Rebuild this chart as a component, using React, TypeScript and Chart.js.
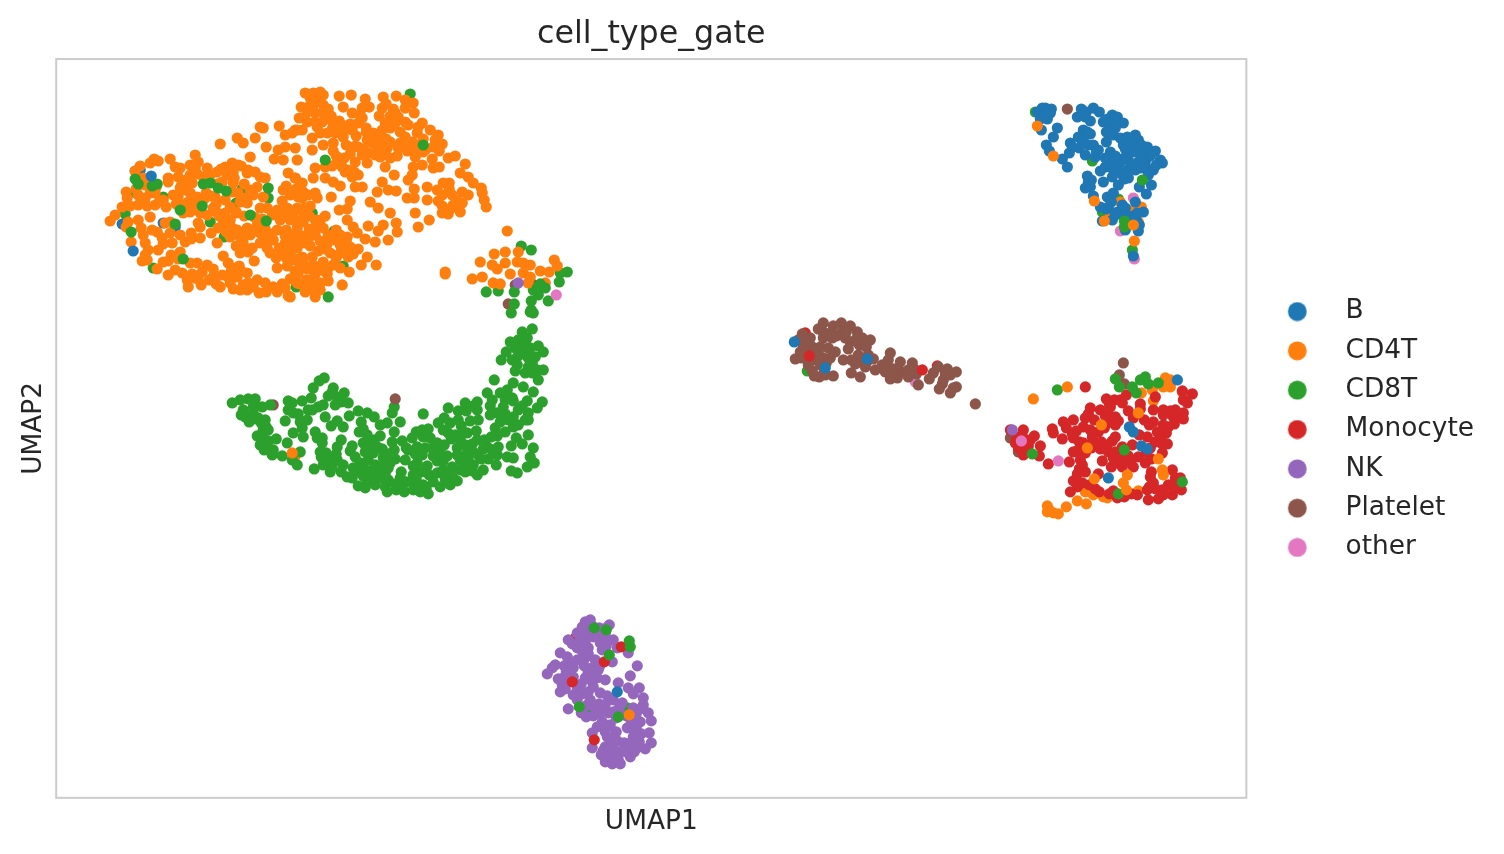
import React, { useEffect, useRef } from "react";
import { Chart, registerables } from "chart.js";

Chart.register(...registerables);

type P = [number, number];

const titleText = "cell_type_gate";
const xLabel = "UMAP1";
const yLabel = "UMAP2";
const categories = ["B", "CD4T", "CD8T", "Monocyte", "NK", "Platelet", "other"];
const colors = ["#1f77b4", "#ff7f0e", "#2ca02c", "#d62728", "#9467bd", "#8c564b", "#e377c2"];

const bMain: P[] = [[98.1,68.6],[98.9,69],[99.5,68.9],[98.6,68.3],[99.4,68.5],[99.1,67.9],[98.4,67.9],[98.5,66.8],[100.1,67],[99.7,66.1],[99,65.3],[99.3,64.7],[100.6,63.9],[101.1,63.1],[101.3,64.5],[101.4,65.5],[102.3,65],[102.9,64.3],[102.2,66.1],[102.7,66.8],[103.4,66.4],[103.2,65.3],[103.7,65.3],[104.2,64.8],[103.9,64.1],[105,65.6],[102.1,68.1],[102.5,68.9],[102.9,68.1],[103.4,67.7],[103.7,69],[104.3,68.6],[104.7,67.6],[105.6,68.3],[106.1,68.1],[105.4,67.1],[106.7,67.5],[105.7,66.3],[106.4,66],[107.1,66.1],[107.9,66.3],[108.2,65.8],[106.7,65.3],[107.6,65.1],[109.1,65.1],[109.9,64.7],[105.4,64.6],[107.1,64.5],[107.9,64.6],[109.1,64.3],[110.4,63.8],[110.6,63.5],[107.2,63.8],[108.2,63.6],[108.9,63.3],[109.7,62.8],[105.4,63.5],[106.4,63.6],[104.9,63.1],[104.4,62.7],[105.7,62.8],[105.6,62.1],[107.1,62.8],[107.9,62.8],[107.2,62],[109.2,62.3],[106.2,61.3],[104.7,61.6],[103.1,62.2],[103.2,61.6],[102.9,61],[108.3,61.1],[109.5,61.3],[109,60.4],[103.7,60.2],[105.1,60.1],[105.7,60.5],[105.2,59.1],[104.4,59.1],[106.6,59.3],[107.9,59.6],[108.7,58.6],[106.1,58.6],[106.6,58.4],[104.6,57.7],[105.6,57.8],[108,57.8],[108.2,56.7],[106.9,56.8],[107.7,54.2],
[98.6,69],[99,68.5],[105,66.6],[105.9,67],[106,67.6],[105.1,67.9],[106.9,64.9],[107.5,65.5],[108.5,65.3],[108.6,64.3],[108.5,63],[106.8,64],[107.6,63.3],[105.9,64.2],[106.1,63],[106.6,62.4],[105.6,63.9],[104.9,64],[109,63.9],[109.4,64.2],[110,63.3],[106.8,61.9],[103,68.6],[102.8,66.2],[102.6,65.6],[103.1,66.6],[104,64.7],[101.6,65.1],[105.5,59.6],[106.9,59],[107.3,58.2],[107.7,58.2],[106.9,58],[105.9,58.3],[105,58.9],[108.1,58.5],[108.3,57.3],[103.5,61.8],[103.4,61.1]];
const bAbove: P[] = [[9.5,62.2],[7.7,54.7],[107.3,37.1],[107.7,36.6],[108.5,35.2],[109.1,34.9],[105.2,32],[112.1,41.8],[73.8,45.6],[76.9,43],[81.1,43.9],[56.1,10.6]];
const bBelow: P[] = [[7.9,62.7],[8.4,62.8],[6.6,57.4],[10.7,57.5],[11.9,57.1],[52.6,15.6],[53.2,12.5]];

const cd4tMain: P[] = [[5.4,57.7],[5.9,58.3],[6.6,59.1],[7.4,59.2],[8.2,59.3],[9.1,59.2],[9.9,59.3],[10.7,59.8],[9.4,58.1],[8.2,57.8],[7.2,57.6],[7,57.1],[8.5,57],[8.7,56.3],[9.6,56.8],[7.5,55.6],[8.9,55.5],[9.2,54.8],[8.9,54.3],[8.6,53.7],[9.1,53.8],[10.2,54.8],[10.7,55.4],[11.6,55.5],[11.4,56.5],[12.4,56.3],[13.5,56.5],[14.4,56],[16.1,55.5],[11.5,54.3],[12.4,54.6],[10.7,53.6],[10.1,52.9],[11.2,52.3],[11.9,52.8],[12.6,52.5],[13.4,53.5],[14.1,53.5],[13.6,52.4],[14.2,51.9],[13.1,51.8],[13.2,51.1],[14.5,51.3],[15.1,53.3],[15.7,52.9],[15.7,52.1],[16.4,51.1],[16.7,54.2],[17.2,53.5],[17.7,53],[16.6,52.3],[17.2,52.1],[18.1,52.1],[17.4,51.5],[18.4,50.8],[19.1,52.5],[19.2,51.5],[19.1,50.8],[20.1,51.8],[21,50.6],[20.9,51.5],[21.7,51.1],[22.1,50.6],[22.6,51.4],[23.2,50.2],[23.4,51.9],[24.1,51.5],[22.1,53],[23.9,52.7],[19.8,53.7],[19.2,54.6],[18.4,54.5],[21.1,55],[21.4,54.5],[22.6,54.5],[23.4,54.5],[22.9,55.5],[24.1,55.5],[21.7,55.8],[20.4,55.5],[18.7,55.5],[17.4,56.1],[18.4,56.1],[19.4,56.3],[20.4,56.5],[18.1,56.8],[19.1,57],[20.1,57.3],[22.1,56.8],[23,56.8],[24.1,56.6],[22.4,57.8],[23.4,57.8],[24.2,57.6],[22.1,58.8],[23.1,59],[24.1,59],[24.2,60.1],[22.7,60.8],[23.2,62.5],[23.9,62],[24.4,61.5],[20.4,62.1],[20.9,62],[20.1,61.1],[19.1,62.5],[19.2,62.8],[19.7,60.3],[20.7,60.1],[20.4,59],[21.1,59],[18.4,59.6],[19.1,59.5],[18.2,60.5],[19.4,60.8],[17.4,59.1],[16.9,59.8],[16.9,58.5],[17.4,57.8],[16.7,57.5],[17.6,57],[15.7,59],[15.1,58.3],[14.4,58.5],[13.4,58.6],[12.7,58.5],[14.2,57.5],[14.4,57.1],[11.4,57.6],[10.9,57.5],[12.2,60.1],[11.7,60.3],[12.4,61],[12.9,60.8],[13.4,60.5],[14.1,60.1],[13.2,59.6],[13.9,59.3],[13.6,61.5],[13.4,62.3],[13.9,63],[13.9,64.3],[14.2,63.6],[13.4,63.3],[15.1,63],[15.4,62.3],[16.1,62.6],[16.9,63.1],[17.6,63.5],[18.2,63.3],[17.7,62.6],[17.1,62.3],[17.7,61.5],[16.6,61.6],[19.4,64.1],[16.4,65.4],[18.1,66],[18.7,65.5],[19.9,66],[20.4,67.1],[20.7,67],[21,65.1],[22.3,67.2],[22.9,66.3],[23.6,66.5],[24.1,66.8],[22.2,64.8],[22.9,65.1],[21.8,63.9],[22.7,63.8],[24.1,63.8],[23.9,65],[11.4,63.9],[11.9,63.1],[12.4,63],[12.2,62.1],[11.2,62],[11.2,61.6],[9.4,63.5],[9.8,63.9],[10.2,63.7],[8.4,63.2],[7.9,62.7],[8.7,62],[8.9,61.3],[9.4,60.5],[9.9,60.5],[8.2,60.3],[7,60.6],[7.1,60],
[24.9,70.5],[25.7,70.5],[26.4,70.6],[26.7,70.3],[25.4,70],[26.2,69.8],[24.5,69.1],[25.7,69.3],[26.7,69.3],[28.3,70.2],[29.5,70.3],[30.9,69.9],[28.7,69.1],[27.2,68.9],[25.9,68.5],[26.7,68.5],[29.6,68.5],[30.6,69],[31.3,69.1],[30.4,68.3],[32.7,70.1],[34,70.2],[34.9,69.8],[35.7,69.5],[32.6,69],[32.3,68.2],[33.7,68.9],[33.4,68.2],[34.9,69],[35.8,68.5],[34.2,68.1],[34.9,67.6],[33.9,68.5],[24.3,68],[25.1,67.6],[25.9,67.6],[26.1,67.1],[23.9,66.8],[24.6,66.8],[26.4,66.5],[27.1,66.5],[27.7,67.5],[28.3,67.7],[27.9,66.5],[28.9,66.8],[29.6,66.8],[30.2,67.5],[30.6,68],[28.7,66.1],[25.6,66],[25.6,64.8],[26.7,65.3],[27.7,65.5],[27.7,64.7],[29,65.3],[31.1,65.8],[31.7,66.5],[32.4,66.1],[32.9,67.5],[33.4,67],[32.6,66.8],[34.4,66.6],[35.2,67.3],[36.1,66.5],[36.6,67.5],[37.4,66.8],[38.2,66.3],[37.9,65.8],[38.6,65.4],[37.7,65.1],[34.9,66.1],[35.6,65.6],[36.2,65.3],[33.4,65.6],[34.4,65.5],[32.2,65.5],[31.6,65.5],[30.2,65.1],[33.1,65],[32.1,64.8],[31.2,64.5],[29.4,64.4],[30.6,64.3],[29.9,63.6],[31.1,63.5],[32.4,64.1],[33.4,64],[34.1,64.2],[32.9,63.1],[35.9,64.1],[36.7,64.6],[37.6,63.9],[36.6,63.3],[37.7,63],[38.3,63.1],[39.2,64],[39.9,64.2],[40.9,63.4],[40.4,62.5],[41.2,62.1],[41.7,61.5],[42.5,61],[42.6,60.5],[42.8,59.8],[43,59.1],[35.7,63.1],[35.6,62.3],[35.2,61.8],[33.8,62.3],[32.6,61.6],[32.1,60.6],[33.2,60.8],[34,60.7],[35.8,60.9],[35.1,60],[35.8,60],[37.1,61.1],[37.1,59.8],[38.1,60.8],[38.7,61.5],[39.3,61.5],[38.6,60.3],[39.6,60.3],[40.6,60.6],[41.2,60.3],[40.6,59.5],[40.4,58.6],[39.7,59.3],[38.6,59.2],[38.6,58.5],[39.2,58.4],[35.9,58.5],[37.3,57.8],[36.2,57.1],[25.9,63],[26.9,63.1],[27.6,63.2],[28.1,63.7],[28.6,63.1],[29.2,62.8],[30.2,62.3],[25.7,62],[26.9,62],[27.7,61.6],[28.4,61.2],[29.9,61.1],[30.6,61.1],[29.6,62.1],[23.9,62],[24.6,61.5],[24.7,60.6],[25.9,60.5],[26.1,60],[27.5,60.1],[29.4,59.7],[29.1,58.9],[28.3,58.8],[31.4,59.6],[32.2,59],[33.4,58.5],[26.9,58.2],[29.1,57.8],[31.2,57.2],[32.7,57.3],[34,57.5],[29.7,57.1],[30.1,56.5],[30.9,55.9],[32.2,56.7],[31.9,55.6],[34.1,56.6],[33.2,55.8],[25.9,57.8],[25.9,57],[26.7,57],[25.9,56.3],[27.2,56.3],[27.9,55.8],[29.1,56.1],[28.4,55.3],[29.4,55.1],[30.2,54.9],[27.4,54.5],[28.4,54.5],[29.2,54.1],[24.9,55.5],[24.1,55],[25.6,54.1],[24.6,54.1],[26.7,53.6],[25.7,53.3],[24.7,53.5],[27.7,53.3],[28.4,53],[29.3,52.6],[30.5,53.3],[31.1,54.1],[32,53.3],[27.2,51.7],[28.6,51.3],[26.4,51.5],[25.4,51.8],[24.2,52.5],[24.9,50.6],[25.9,50.1],[26.4,50.8],[23.4,50.1],[24.1,58.8],[24.6,60],[23.9,57.8],[24.7,57.6],[24.1,57],[23.6,56.3],
[38.9,52.6],[38.9,52.4],[45.1,56.7],[43.8,54.4],[44.9,54.6],[46.2,54.6],[42.4,53.6],[43.6,53.3],[44.1,52.9],[44.9,53.5],[46.1,53.6],[46.7,53.5],[47.4,53.3],[45.4,52.4],[41.6,51.9],[42.6,52.1],[43.7,51.5],[44.4,51.4],[46.7,52.5],[47.4,52.1],[48.4,52.7],[49.3,52.6],[49.8,53.8],[50.1,53.2],[48.9,51.5],[47.2,51.5],
[15.5,60.2],[16,59.4],[16.3,58.2],[18,58.6],[18.8,58.2],[19.8,58.1],[20.6,57.9],[21.6,58.3],[22.8,58.2],[23.6,58.4],[24.8,59],[25.4,59.2],[22.6,59.7],[23.4,60.3],[23,61.2],[24,60.9],[25.2,60.3],[16.2,57],[17,56.6],[15.5,56.5],[18.9,56.4],[19.9,56.7],[20.9,56.9],[21.5,56.4],[22.9,56.2],[23.4,55.8],[24.6,56.2],[25.2,55.9],[25.3,56.9],[25.3,58.2],[24.8,58.3],[23.4,55],[22.3,55],[20.9,55.8],[19.6,55],[18.9,54.9],[18,55.2],[22,54],[23,54],[23.7,53.8],[24.4,53.1],[25.1,52.9],[23.1,53.2],[25.9,52.4],[26.2,52.8],[25,51.8],[26,51.2],[24.4,51.4],[25.3,50.9],[26.8,52.7],[27.1,52.4],[27.2,53],[26.2,54.7],[26.9,54.9],[27.1,55.4],[26.4,55.7],[28,56.8],[28.4,56.3],[29,55.7],[28.9,54.7],[29.7,54.4],[28,54],[26.4,57.8],[25.4,55.2],[24,53.9],
[36.2,67.1],[33,69.4],[33.9,67.5],[31,67],[30,66.2],[31,66.6],[29.4,67.4],[28.6,67.3],[26.6,67.6],[27,67.9],[25.1,68.6],[25.2,69.1],[27.5,68.2],[27.6,66.9],[29.9,65.2],[30.7,64.9],[33,65.9],[34.2,65],[35.1,64.7],[36.7,65.9],[37,64.9],[38.3,64.7],[36.1,64.7],[35.3,65.1],[32.9,64.5],[31.9,64.3],[28.8,64],[28,64.2],[28.9,62.6],[29.8,62.6],[39.3,60.9],[38.2,59.7],[39.4,58.9],[40.1,59.7],
[11,59.1],[10.3,59.6],[12,59.4],[12.7,59.3],[15,60.5],[15.9,60.1],[14.7,62.1],[14.1,62.4],[14.8,59.9],[16,58.6],[16.1,61.4],[18.8,61.4],[19,60],[17.6,60.6],[18,58.5],[17.8,62],[16.5,62.9],[13,61.8],[12.5,61.2],[10,61.1],[9.3,61.7],[19.9,62.6],[18.5,63.2],[12.2,53.9],[11.2,53.7],[10.6,56],[10.1,56.6],[8.9,60],[8,60.9],[13.5,55.9],[12.9,55.6],[14.6,52.6],[15.3,51.8],[16,51.4],[17.7,50.9],[18.7,51.3],[19.7,51.1],[20.3,50.5],[22.9,51],[13.8,52],[17.5,52.7],[18.3,53.2],[18.5,52.7]];
const cd4tAbove: P[] = [[98.1,67.2],[99.7,64.2],[103.8,59.7],[104.8,57.7],[107.7,57.3],[107.8,55.7],[97.7,39.9],[101.1,41.1],[108.2,38.5],[104.5,37.3],[103.1,35],[110.2,33.9],[107.1,32.3],[103.8,31.9],[110.6,32.8],[110.7,32.3],[106.7,31.5],[107,30.8],[57.3,8.3],[23.6,34.5]];
const cd4tBelow: P[] = [[105.4,58.2],[108.5,59.1],[108.2,57.6],[107.7,58.8],[106.4,59.6],[110.9,42],[111.4,41.8],[110.7,41.1],[111.4,41.1],[109.6,40.8],[108.5,40.5],[109.7,39.7],[112.6,40.6],[108.9,33.8],[102.9,30.6],[103.7,30.3],[104.7,30.1],[105.1,30],[108.2,30.7],[111.4,30.5],[102.1,29.7],[103,29.4],[101,29.1],[99.1,29.2],[99.3,28.8],[99.7,28.5],[100.2,28.4],[99.1,28.6],[23.9,34.2]];

const cd8tMain: P[] = [[17.6,39.5],[18.4,39.8],[19.2,39.9],[19.9,39.9],[19.7,39.1],[20.6,39.1],[21.4,39.3],[18.7,38.8],[18.9,38.1],[19.3,37.6],[20.2,38],[20.9,37.8],[20.7,36.8],[21.2,36.8],[20.1,36.2],[20.7,36],[22,35.9],[20.4,35.3],[21.2,35],[21.7,34.8],[21.6,34.3],[22.6,34.2],[23.6,33.8],[24.1,33.3],[23.1,35.5],[24.4,34.6],[23.2,39.7],[23.6,39.5],[23.2,38.8],[23.7,38.5],[22.9,37.7],[24.6,39.7],[25.5,40],[25.2,38.8],[24.4,37.6],[25.1,37.8],[24.6,37],[23.7,36.5],[24.7,36.1],[26.2,39.1],[26.7,39.3],[25.7,41],[26.3,41.7],[26.8,42],[27.7,41],[27.2,40.2],[28.1,40.1],[28.8,40.5],[29.2,39.5],[27.9,39.3],[28.5,39.6],[26.9,38.1],[29.3,38.2],[30.2,38.7],[27.5,37.2],[28.1,37.7],[28.7,37.1],[25.9,36.6],[26.6,36],[26.1,36],[26.6,35.5],[28.5,35.8],[28.1,35.1],[29.6,35.2],[29.4,34.7],[29.9,34.1],[26.4,34.6],[27,34.5],[26.7,34],[28.1,33.8],[28.7,33.3],[26.7,33.3],[27.4,32.6],[25.8,32.9],[28.5,32.6],[29.6,32],[30.2,32.6],[30.2,31.2],[31.1,38.5],[31.8,38.1],[30.5,37.6],[30.3,36.6],[31.1,36.3],[32.4,37.3],[33.1,37.5],[32.4,36.2],[33.8,36.6],[33.8,39.1],[33.6,38.5],[34.4,37.6],[36.7,38.4],[30.7,35.5],[31.4,35.3],[32.1,35.1],[30.9,34.6],[31.7,34.5],[33.6,35.6],[34.6,35.7],[33.8,34.8],[32.7,34],[31.2,33.8],[31.9,33.3],[33.4,33.5],[32.7,33.1],[31.1,32.6],[32.1,32.5],[31.1,31.6],[31.9,31.3],[32.9,31.1],[33.2,31.8],[32.4,32],[34,30.8],[34.8,30.6],[34.5,32.6],[34.4,32],[35.7,33.2],[35.7,32.3],[35.6,36],[35.2,34.8],[36.1,35.1],[36.6,36.8],[37.2,36.9],[36.7,36.1],[37.4,36],[38.1,35.5],[38.8,35.3],[36.6,34.3],[37.1,33.2],[38.1,33.7],[35.9,31.5],[35.7,30.8],[36.7,31.3],[37.2,30.4],[36.4,30.6],[37.3,32.3],[38.1,32.5],[38.4,31.1],[39.4,31.3],[40.1,31.7],[38.7,32.8],[39.6,32.1],[38.2,37.5],[38.7,36.8],[39.4,37.5],[39.9,36.3],[39.2,39],[40.2,38.7],[40.2,37.8],[40.9,39.5],[42.1,39.6],[42.1,38.8],[41.4,37.7],[42.2,37.8],[43.1,40.5],[43.4,38.3],[43.6,39.8],[43.5,36.1],[41.1,36.5],[42.1,35.8],[40.9,35.3],[43.1,35.1],[40.1,35],[39.1,34.2],[40.1,34.3],[41.1,34.5],[42.2,34.3],[44.2,35.1],[44.1,34.3],[45.1,34.1],[45.7,34],[39.6,33.1],[40.7,33.3],[41.7,33.3],[42.7,32.8],[44,33.3],[40.9,32.6],[42.1,32.3],[45.5,32.7],[46.1,32.5],[47.1,33.1],[47.8,33.5],[47.4,34.1],[47.7,35],[46.6,35.4],[45.5,35.2],[46,36],[47.2,36.3],[44.4,37.6],[44.9,36.6],[45.7,37.1],[46.2,37.3],[45.7,38.1],[46.2,38.8],[47.2,38.5],[48.1,39],[48.6,39.6],[47.1,39.7],[47.7,40.6],[46.7,41.1],[45.7,41.5],[45.1,40.8],[44.4,40.5],[45.7,39.7],[44.7,39.1],[43.8,41.8],[48.2,41.8],[48.7,42.8],[48.1,42.8],[46.9,42.5],[47.2,43.1],[46.1,43.3],[45.6,43.8],[44.5,43.8],[45,44.6],[45.9,45],[45.4,45.6],[46.2,45.8],[46.6,46.6],[47.6,46.9],[47.1,46],[48.2,45.2],[48.7,44.6],[47.4,45],[47.9,44.1],[47.2,44],[46.6,44.5],[45.5,48.5],[47.4,48.6],[47.7,48.5],[46.5,55.2],[47.5,54.8],[43,50.6],[44.2,50.7],[45.8,50.6],[47.5,49.7],[49.2,49.7],[50.3,51.6],[50.4,52.5],[51.1,52.6],[47.7,50.8],[48.2,50.3],[45.8,49.4],[47.5,48.8],
[30.4,33.5],[31,35],[31.9,34.8],[30.4,33],[31.8,35.8],[32.6,34.9],[33.2,33],[33.9,33.9],[33.2,34.4],[31.6,32.1],[30.7,32.2],[32.9,32.5],[30.7,33.4],[35,35],[35.9,34.4],[36.1,33.5],[36,36.6],[36.9,35],[37.6,35],[37.7,34.2],[38.4,34.6],[36.5,32.6],[36,31.9],[37.7,31.6],[37,31],[38.9,31.9],[38.7,33.7],[39.4,32.7],[40.4,33.8],[40.4,32.8],[41.2,33.8],[41.7,34.6],[41.6,35.4],[40.4,35.8],[39.5,35.9],[40.7,36.5],[42,36.7],[42.8,35.8],[42.7,34.9],[43.6,34.8],[42.5,33.9],[41.6,32.7],[43.2,33.9],[44.1,36.2],[44.9,38.4],[45.2,37.8],[46.9,37.8],[46.6,39.2],[44.9,39.8],[45.6,40],[44.1,38.5],[43.9,37],[38.8,38],[39.2,36.5],[40.5,37.2],[41,38.7],[41.7,39.2],[43.4,39.2],[47.2,37.8],[45.9,42.7],[46.2,44.2],[46.9,45.5],[47.6,43.5],[46.4,45.2],[47.6,42.5],[34.9,33.8],[35,31.6],[33.9,31.4],[34.6,31],[33.1,30.6],[29.1,32.1],[29.7,33],[30.9,31],[21,37.1],[20.5,37.5],[21.2,35.7],[20.8,34.8],[18.5,38.3],[19.7,38.5],[20,37.9],[27.6,40.6],[28.3,39.9],[24.2,38.4],[25.6,38.8],[26.5,34.1],[28,34.4],[27.4,33.8],[27.6,33.1],[31.4,32.7],[30.7,36.9]];
const cd8tAbove: P[] = [[48.1,51],[48.4,51.4],[48.9,51],[9.6,61.2],[10.1,61.4],[14.7,61.4],[15.4,61.5],[16.2,61],[17,60.7],[19.4,58.3],[21,57.7],[11.9,57.4],[7.5,56.6],[12.7,53.9],[7.9,61.9],[8.2,61.4],[21.2,61],[12.4,58.8],[14.6,59.2],[26.9,63.8],[36.7,65.3],[27.2,50.1],[108.6,61.8],[106.8,57.7],[106.8,57.1],[100.1,40.8],[105.9,41.9],[106.3,41.1],[107.6,41.1],[108,40.5],[108.4,41.8],[108.9,42.1],[109.2,41.4],[110.2,41.5],[106.8,34.8],[97.6,34.4],[106.2,30.4],[112.6,31.6],[53.8,17],[55,16.8],[57.3,15.7],[57.4,15.1],[55.3,14.3],[52.3,9.1],[56.2,8.1]];
const cd8tBelow: P[] = [[15.4,57.6],[6.9,58.4],[16.8,56.1],[9.7,53],[10.7,60.1],[8,60.5],[18.6,60.9],[21.2,60],[18,59.5],[24,51.1],[35.4,70.4],[27.8,56.7],[28.7,53.2],[25.6,58.5],[97.9,68.6],[103.6,63.7],[104.6,58.6],[107.6,54.8],[106.2,59.9],[75.1,42.7],[53.6,8.6],[57.1,9]];

const monocyteMain: P[] = [[102.9,41.1],[107,40.3],[105,39.9],[105.8,39.8],[106.6,39.5],[108.4,39.4],[109.9,40.1],[112.6,40.7],[113.6,40.4],[112.7,39.8],[113.1,39.5],[103.4,39],[104.4,38.8],[105.4,39.1],[107.2,38.7],[109.7,38.8],[111.4,38.7],[112.7,38.5],[102.9,38],[105.9,38.1],[107.7,38],[108.8,37.8],[110.7,38.3],[111.7,38.1],[112.7,37.9],[100.7,37.6],[101.7,37.8],[101,37],[99.6,36.9],[99.7,36.5],[100.6,35.9],[102.7,37.1],[103.4,36.8],[104.2,36.6],[105.1,37.5],[105.9,37.3],[109.7,37.6],[110.7,37.3],[108.3,36.3],[109.1,36.1],[110.1,36.6],[111,36.5],[101.7,36],[102.7,35.5],[103.7,35.6],[105.1,35.3],[105.9,36.1],[107.6,35.3],[109.9,35.6],[111.1,35.4],[101.7,34.6],[101.3,33.6],[102.9,34.5],[104.4,34.9],[105.2,34.6],[106.7,34.1],[108.2,34.1],[109.5,33.9],[110.6,34.5],[104.6,33.7],[105.5,33.1],[106.6,33.1],[107.7,33.1],[102.6,33.3],[102.9,32.6],[102.1,32.4],[101.7,31.7],[102.6,31.5],[104.2,32.4],[101.4,30.6],[103.9,30.9],[104.3,30.6],[105.3,30.4],[106.1,30],[106.8,30.1],[108.1,30.3],[109.1,30.8],[109.2,29.8],[110.2,29.9],[110.6,30.8],[111.2,31.3],[111.6,32.8],[111.9,32],[112.4,32],[112.5,30.8],[111.6,30.3],[109.4,32.1],[109.7,31.5],[109.5,32.6],[95.4,36.8],[96.7,36.8],[97.8,36.2],[96,36.1],[97.4,35.8],[98.4,35.2],[97.2,35.2],[96.2,35],[96.7,34.3],[98.3,34.2],[99.2,33.4],
[104.9,38.2],[103.8,37.8],[103.2,38.4],[104.8,37],[103.6,36.1],[102,36.7],[101.6,36.4],[102.3,35.6],[102.2,34.8],[103.5,35],[104.5,35.6],[105.6,35.7],[105.9,34.6],[105.7,34],[106.6,35.1],[107.2,34.2],[106.2,33.5],[107.4,33.6],[108.9,33.5],[109,34.6],[109.4,35],[110.6,35.4],[110.5,36.1],[111.2,37.1],[111.8,37.4],[112.2,38.3],[111.9,38.8],[109.3,37.3],[108.4,38.9],[105.2,38.3],[106.2,37.7],[102.4,33.8],[102.3,32.9],[103.3,31.3],[102.1,31.1],[109.3,31.1],[109.9,30.9],[111.7,31],[110.7,30.3],[112,31.3],[107.5,30.4],[105.7,30.7],[106.4,39.8],[105.3,39.4],[110.7,38.8],[96.6,36.2],[96.7,35.5],[97,34.7],[95.9,35.5]];
const monocyteAbove: P[] = [[75.3,44.2],[86.6,42.8],[56.5,15.1],[54.8,13.6],[51.6,11.6],[53.8,5.8]];
const monocyteBelow: P[] = [[74.9,46.5],[88.1,43.2],[51.9,16]];

const nkMain: P[] = [[52.9,17.6],[53.4,17.8],[52.6,17.1],[55.3,17.3],[53.7,16.1],[52.1,16.5],[52.4,16],[51.6,15.4],[52.1,15],[53.2,15],[54.4,15.5],[55.7,15.8],[54.6,14.8],[56.1,15],[50.4,14.5],[51.1,14.1],[52.1,13.8],[52.9,14],[53.9,13.8],[55.6,13.6],[57.2,14.5],[58.1,13.2],[49.9,13.3],[49.6,13],[49.1,12.4],[51.7,13],[53.6,13],[54.2,12.8],[57.4,12.2],[50.7,12],[51.7,12.1],[52.9,12],[54.9,11.8],[50.6,11.3],[50.4,10.6],[52.1,11],[51.7,10.3],[53.7,11.1],[54.4,10.5],[56.2,11.5],[57.2,11],[58.3,11],[57.7,10.4],[52.1,9.8],[53.1,9.3],[51.2,8.9],[53,8.1],[54.4,8.5],[54.9,9.3],[55.7,9.8],[56.6,9.5],[58.7,10],[58.7,9.3],[57.7,9],[59.2,8.5],[55.7,8.6],[54.6,7.6],[55.4,7.3],[59.5,7.7],[58.4,7.6],[57.1,7],[54.1,7.1],[53.6,6.5],[56,6.6],[59.3,6.5],[55.1,6.1],[56.1,5.7],[57.7,6.1],[57.4,5.5],[59.5,5.5],[53.6,5],[54.9,5.1],[55.7,5],[58.1,5],[58.9,4.9],[54.5,4.3],[55.2,4.1],[56.2,4.3],[57.4,4.1],[54.9,3.6],[55.6,3.4],[56.4,3.4],
[53,16.6],[54.9,16.4],[54.2,16.3],[54.8,15.9],[55,15.2],[52.9,15.6],[52.6,14.7],[51.3,13.4],[50.8,13.2],[51,12.6],[50.2,11.9],[50.9,10.9],[52.8,13.2],[53.2,12.6],[54.3,13.1],[54.1,12],[53.4,11.8],[52.5,11.4],[52.6,10.4],[53.2,10.6],[53.4,9.8],[52.7,9],[54.3,9.4],[55.1,10.2],[55.2,8.5],[56.3,9],[56,8],[57,8.2],[58,8.4],[58.4,8.9],[57.5,7.6],[58,7],[58.5,6.4],[57.6,6.9],[56.8,5.5],[58.3,5.6],[55.6,5.8],[55.8,4.5],[56.7,4.8],[54.7,4.7],[55.4,4.9],[56.2,3.8],[57,4.6],[57.8,4.6],[54.9,6.6],[55,7],[53.7,8.2],[52.5,8.5],[53.9,9],[51.2,15.8],[53.5,16.8],[53.6,17.2],[54.3,17],[55,17],[53.2,14.4]];
const nkAbove: P[] = [[46.2,51.5],[95.6,36.8]];

const plateletMain: P[] = [[76.7,47.5],[77.7,47.2],[78.5,47.5],[79.4,47.2],[76.6,46.7],[77.4,46.5],[76.7,46],[77.6,46],[78.6,46.6],[80.1,46.6],[78.9,46],[79.4,45.6],[80.6,46],[81.4,45.8],[80.3,45.3],[81,45.1],[79.2,44.9],[74.6,46.4],[74.2,45.8],[75.4,46],[74.7,45.3],[75.6,45.1],[76.4,45.1],[77.2,45],[77.9,44.6],[74.4,44.6],[73.9,43.9],[77.4,44],[76.7,44],[75.6,43.8],[75.2,43.3],[75.6,42.7],[76.4,43.3],[76.3,42.1],[77.7,42.2],[76.9,42.3],[78.7,43.8],[79.5,43.8],[80.2,44.3],[80.4,43.6],[80.9,43.1],[81.7,43.9],[79.5,42.5],[80.4,42.1],[81.9,42.8],[82.6,43.3],[83.4,44.5],[83.2,43.8],[82.9,42.6],[83.4,41.9],[84.1,42],[84.4,43.6],[84.5,42.6],[85.2,42.8],[85.6,43.5],[85.2,42.1],[86.2,41.3],[87.3,41.9],[87.7,42.5],[88.2,43.1],[89.1,42.9],[90,42.6],[88.7,41.8],[89.4,42.3],[88.3,40.9],[89.4,40.5],[90,41.1],[91.9,39.4],
[76.2,46.9],[78,46.2],[79,46.6],[80,45.9],[75,45.8],[74.9,45],[76.2,44.7],[75,44.3],[74.5,44],[76.1,43.8],[75.8,42.2],[76.8,42.6],[79.9,43.4],[81,43.5],[81.2,44.3],[84,42.4],[83.7,42.9],[83,43.2],[86,42.4],[88.9,42.4],[88.6,41.4],[89.7,41],[77,43.5],[85.8,42.9]];
const plateletAbove: P[] = [[33.9,39.9],[101.1,68.9],[106.7,43.5],[106.3,42.3]];
const plateletBelow: P[] = [[45.9,51.3],[47.6,51.4],[45.2,49.4],[21.7,39.3],[106.8,41.4],[95.4,36],[96.2,34.6]];

const otherAbove: P[] = [[50,50.3],[96.5,35.7],[100.2,33.7]];
const otherBelow: P[] = [[106.6,62.3],[107.7,60],[106.4,56.7],[107.8,53.9],[113.3,40.3],[85.9,41.6]];

const empty: P[] = [];
const aboveLayers = [bAbove, cd4tAbove, cd8tAbove, monocyteAbove, nkAbove, plateletAbove, otherAbove];
const mainLayers = [bMain, cd4tMain, cd8tMain, monocyteMain, nkMain, plateletMain, empty];
const belowLayers = [bBelow, cd4tBelow, cd8tBelow, monocyteBelow, empty, plateletBelow, otherBelow];
const mainDrawOrder = [6, 5, 4, 3, 0, 1, 2];

function legendDot(color: string) {
  const c = document.createElement("canvas");
  c.width = 26;
  c.height = 20;
  const g = c.getContext("2d")!;
  g.fillStyle = color;
  g.beginPath();
  g.arc(14.5, 10, 9.4, 0, Math.PI * 2);
  g.fill();
  return c;
}

export default function App() {
  const ref = useRef<HTMLCanvasElement>(null);
  useEffect(() => {
    const toData = (pts: P[]) => pts.map(([x, y]) => ({ x, y }));
    const layer = (i: number, pts: P[], label: string) => ({
      label,
      data: toData(pts),
      backgroundColor: colors[i],
      borderWidth: 0,
      pointRadius: 5.6,
      pointHoverRadius: 5.6,
      pointStyle: "circle",
    });
    // Chart.js paints the first dataset last, so the top layer comes first.
    const datasets = [
      ...aboveLayers.map((p, i) => layer(i, p, "")),
      ...mainDrawOrder.map((i) => layer(i, mainLayers[i], categories[i])),
      ...belowLayers.map((p, i) => layer(i, p, "")),
    ];
    const frame = {
      id: "frame",
      afterDatasetsDraw(c: any) {
        const { left, top, width, height } = c.chartArea;
        c.ctx.save();
        c.ctx.strokeStyle = "#cccccc";
        c.ctx.lineWidth = 2;
        c.ctx.strokeRect(left, top, width, height);
        c.ctx.restore();
      },
    };
    const font = "'DejaVu Sans'";
    const ink = "#262626";
    const chart = new Chart(ref.current!, {
      type: "scatter",
      data: { datasets } as any,
      plugins: [frame],
      options: {
        animation: false,
        responsive: false,
        events: [],
        layout: { padding: { left: 18.5, right: 20, top: 16, bottom: 11 } },
        scales: {
          x: {
            min: 0,
            max: 119,
            grid: { display: false },
            border: { display: false },
            ticks: { display: false },
            title: { display: true, text: xLabel, color: ink, font: { family: font, size: 26.4 }, padding: { top: 0.5, bottom: 5 } },
          },
          y: {
            min: 0,
            max: 73.9,
            grid: { display: false },
            border: { display: false },
            ticks: { display: false },
            title: { display: true, text: yLabel, color: ink, font: { family: font, size: 26.4 }, padding: { top: 0, bottom: -2 } },
          },
        },
        plugins: {
          tooltip: { enabled: false },
          title: {
            display: true,
            text: titleText,
            fullSize: false,
            color: ink,
            font: { family: font, size: 31.7, weight: "normal" },
            padding: { top: 0, bottom: 5 },
          },
          legend: {
            position: "right",
            labels: {
              usePointStyle: true,
              pointStyleWidth: 73,
              boxHeight: 13.4,
              padding: 12.93,
              color: ink,
              font: { family: font, size: 26.4 },
              generateLabels: (c: any) =>
                Chart.defaults.plugins.legend.labels
                  .generateLabels(c)
                  .filter((item: any) => item.text !== "")
                  .map((item: any) => ({ ...item, pointStyle: legendDot(item.fillStyle) }))
                  .sort((a: any, b: any) => categories.indexOf(a.text) - categories.indexOf(b.text)),
            },
          },
        },
      },
    } as any);
    return () => chart.destroy();
  }, []);
  return (
    <canvas
      ref={ref}
      width={1504}
      height={854}
      style={{ position: "fixed", left: 0, top: 0, display: "block" }}
    />
  );
}
